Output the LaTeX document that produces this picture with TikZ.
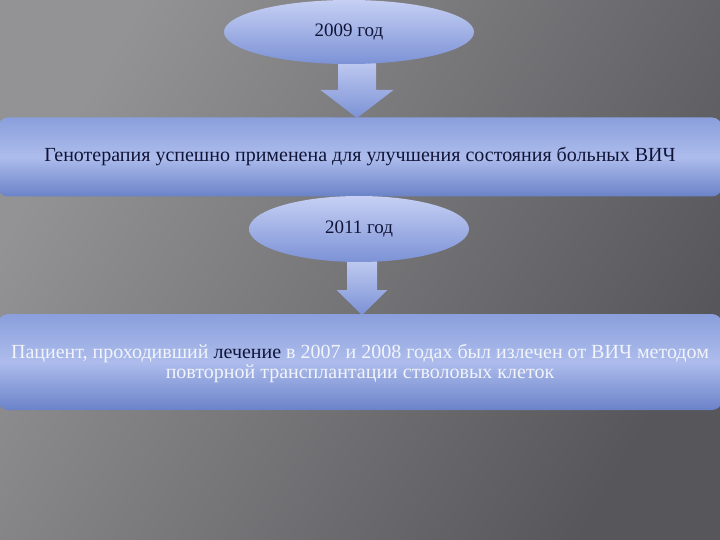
\documentclass[tikz,border=0pt]{standalone}
\usepackage{fontspec}
\setmainfont{Liberation Serif}
\usetikzlibrary{shapes.geometric,calc}
\definecolor{bgA}{HTML}{939294}
\definecolor{bgB}{HTML}{57565A}
\definecolor{navy}{HTML}{101538}
\definecolor{boxTop}{HTML}{8A9FDC}
\definecolor{boxMid}{HTML}{ADBCEC}
\definecolor{boxBot}{HTML}{6A82C8}
\definecolor{ellTop}{HTML}{C6D0F4}
\definecolor{ellBot}{HTML}{7C92D6}
\definecolor{whitetext}{HTML}{F2F4FA}
\begin{document}
\begin{tikzpicture}[x=1pt,y=-1pt,
  yearell/.style={ellipse, inner sep=0pt, top color=ellTop, bottom color=ellBot,
    draw=none, font=\fontsize{19}{22}\selectfont, text=navy},
  bandbox/.style={rectangle, rounded corners=10pt, inner sep=0pt,
    top color=boxTop, bottom color=boxBot, middle color=boxMid, draw=none},
  blockarrow/.style={top color=ellTop!90!white, bottom color=ellBot, draw=none},
]
\useasboundingbox (0,0) rectangle (720,540);
\shade[shading=axis, left color=bgA, right color=bgB, shading angle=60] (0,0) rectangle (720,540);

% arrow tips
\coordinate (tip1) at (357,118);
\coordinate (tip2) at (362,315);

% block arrows (drawn first, so the shapes cover their tails)
\path[blockarrow] (tip1) -- ++(-36.5,-28) -- ++(17.5,0) -- ++(0,-40) -- ++(38,0)
  -- ++(0,40) -- ++(17.5,0) -- cycle;
\path[blockarrow] (tip2) -- ++(-25.5,-25) -- ++(10.5,0) -- ++(0,-40) -- ++(30,0)
  -- ++(0,40) -- ++(10.5,0) -- cycle;

% shapes
\node[yearell, minimum width=250pt, minimum height=64pt] (y1) at (349,32) {2009 год};
\node[bandbox, minimum width=724pt, minimum height=79pt] (b1) at (360,157)
  {\fontsize{20}{24}\selectfont\color{navy}\raisebox{-1pt}{Генотерапия успешно применена для улучшения состояния больных ВИЧ}};
\node[yearell, minimum width=220pt, minimum height=66pt] (y2) at (359,229) {2011 год};
\node[bandbox, minimum width=724pt, minimum height=96pt] (b2) at (360,362)
  {\parbox{716pt}{\centering\fontsize{20}{20}\selectfont\color{whitetext}\vspace*{3pt}Пациент, проходивший {\color{navy}лечение} в 2007 и 2008 годах был излечен от ВИЧ методом\\повторной трансплантации стволовых клеток}};
\end{tikzpicture}
\end{document}
